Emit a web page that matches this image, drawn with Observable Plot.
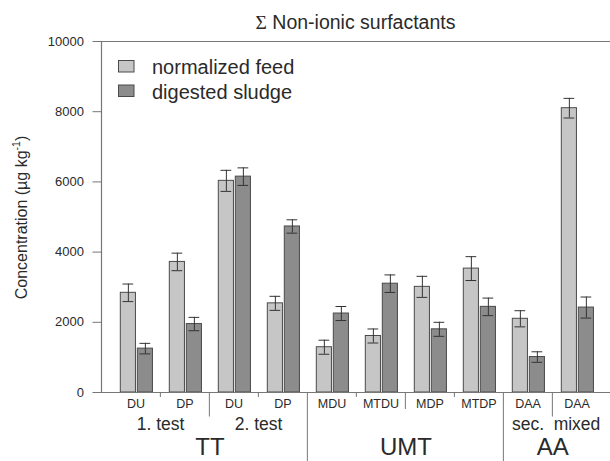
<!DOCTYPE html>
<html>
<head>
<meta charset="utf-8">
<script src="https://cdn.jsdelivr.net/npm/d3@7"></script>
<script src="https://cdn.jsdelivr.net/npm/@observablehq/plot@0.6"></script>
<style>
  html, body { margin: 0; padding: 0; background: #fff; }
  #chart svg { display: block; overflow: visible; }
</style>
</head>
<body>
<div id="chart"></div>
<script>
// ---- data ----
const categories = ["DU1", "DP1", "DU2", "DP2", "MDU", "MTDU", "MDP", "MTDP", "DAAsec", "DAAmixed"];
const categoryLabels = ["DU", "DP", "DU", "DP", "MDU", "MTDU", "MDP", "MTDP", "DAA", "DAA"];
const seriesNames = ["normalized feed", "digested sludge"];
const feedValues = [2840, 3720, 6030, 2540, 1290, 1610, 3010, 3530, 2100, 8100];
const feedErrors = [250, 250, 300, 200, 200, 200, 300, 340, 230, 280];
const sludgeValues = [1250, 1950, 6150, 4730, 2250, 3100, 1800, 2440, 1010, 2420];
const sludgeErrors = [150, 190, 250, 190, 200, 250, 200, 250, 150, 300];
const subgroupLabels = ["1. test", "2. test", "sec.", "mixed"];
const subgroupMembers = [["DU1", "DP1"], ["DU2", "DP2"], ["DAAsec"], ["DAAmixed"]];
const groupLabels = ["TT", "UMT", "AA"];
const groupMembers = [["DU1", "DP1", "DU2", "DP2"], ["MDU", "MTDU", "MDP", "MTDP"], ["DAAsec", "DAAmixed"]];
const yTicks = [0, 2000, 4000, 6000, 8000, 10000];
const titleSymbol = "Σ";
const titleText = " Non-ionic surfactants";
const yLabelParts = ["Concentration (µg kg", "-1", ")"];
// divider to the left of each category: "minor", "test", "mid", "group" or none
const dividerKinds = [null, "minor", "test", "minor", "group", "minor", "mid", "minor", "group", "test"];

// ---- styles ----
const W = 610, H = 461;
const mL = 101, mR = 0, mT = 41, mB = 69;
const xRange = [109.7, 602.3];
const bw = (xRange[1] - xRange[0]) / categories.length;
const feedFill = "#c6c6c6", sludgeFill = "#8c8c8c", barStroke = "#4a4a4a";
const errColor = "#333333", axisColor = "#777777", textColor = "#2a2a2a";
const font = "Liberation Sans, Arial, Helvetica, sans-serif";
const frameH = H - mT - mB;
const dividerLen = {minor: 5, test: 24.5, mid: 17, group: mB};

// bar geometry within a band
const feedLeft = 9.3, barW = 15.4, gap = 1.6;
const sludgeLeft = feedLeft + barW + gap;
const capW = 11;
const feedCenter = feedLeft + barW / 2, sludgeCenter = sludgeLeft + barW / 2;

const feedRows = categories.map((c, i) => ({cat: c, v: feedValues[i], e: feedErrors[i]}));
const sludgeRows = categories.map((c, i) => ({cat: c, v: sludgeValues[i], e: sludgeErrors[i]}));
const labelRows = categories.map((c, i) => ({cat: c, label: categoryLabels[i]}));
const dividerRows = categories.map((c, i) => ({cat: c, kind: dividerKinds[i]})).filter(d => d.kind);

function errMarks(rows, center) {
  const dx = center - bw / 2;
  const capL = center - capW / 2, capR = bw - (center + capW / 2);
  return [
    Plot.ruleX(rows, {x: "cat", y1: d => d.v - d.e, y2: d => d.v + d.e, dx, stroke: errColor, strokeWidth: 1}),
    Plot.tickY(rows, {x: "cat", y: d => d.v + d.e, insetLeft: capL, insetRight: capR, stroke: errColor, strokeWidth: 1}),
    Plot.tickY(rows, {x: "cat", y: d => d.v - d.e, insetLeft: capL, insetRight: capR, stroke: errColor, strokeWidth: 1})
  ];
}

const spanText = (labels, members, fontSize, dy) => labels.map((lab, i) => {
  const m = members[i];
  return Plot.text([{cat: m[0], label: lab}], {
    x: "cat", text: "label", frameAnchor: "bottom",
    dx: (m.length - 1) * bw / 2, dy, fontSize, lineAnchor: "middle", fill: textColor
  });
});

const chart = Plot.plot({
  width: W, height: H,
  marginLeft: mL, marginRight: mR, marginTop: mT, marginBottom: mB,
  style: {fontFamily: font, color: textColor, background: "#fff"},
  x: {type: "band", domain: categories, range: xRange, padding: 0, axis: null},
  y: {domain: [0, 10000], axis: null},
  marks: [
    Plot.barY(feedRows, {x: "cat", y: "v", fill: feedFill, stroke: barStroke, strokeWidth: 1,
      insetLeft: feedLeft, insetRight: bw - feedLeft - barW}),
    Plot.barY(sludgeRows, {x: "cat", y: "v", fill: sludgeFill, stroke: barStroke, strokeWidth: 1,
      insetLeft: sludgeLeft, insetRight: bw - sludgeLeft - barW}),
    ...errMarks(feedRows, feedCenter),
    ...errMarks(sludgeRows, sludgeCenter),
    Plot.ruleY([0, 10000], {stroke: axisColor, strokeWidth: 1.2}),
    Plot.frame({anchor: "left", stroke: axisColor, strokeWidth: 1.2}),
    Plot.axisY({ticks: yTicks, tickSize: 8.5, tickPadding: 9, tickFormat: d3.format("d"),
      fontSize: 13, stroke: axisColor, label: null, color: textColor}),
    ...Object.entries(dividerLen).map(([kind, len]) =>
      Plot.ruleX(dividerRows.filter(d => d.kind === kind), {
        x: "cat", dx: -bw / 2, insetTop: frameH, insetBottom: -len, stroke: axisColor, strokeWidth: 1
      })),
    Plot.text(labelRows, {x: "cat", text: "label", frameAnchor: "bottom", dy: 11.3, fontSize: 12.5, lineAnchor: "middle", fill: textColor}),
    ...spanText(subgroupLabels, subgroupMembers, 17.5, 32),
    ...spanText(groupLabels, groupMembers, 24, 54.5)
  ]
});

const svg = d3.select(chart);
// title
const title = svg.append("text")
  .attr("x", (mL + W - mR) / 2).attr("y", 29.3)
  .attr("text-anchor", "middle").attr("font-size", 19.5)
  .attr("font-family", font).attr("fill", textColor);
title.append("tspan").attr("font-family", "Liberation Serif, DejaVu Serif, serif").text(titleSymbol);
title.append("tspan").text(titleText);

// y-axis label
const yl = svg.append("text")
  .attr("transform", `translate(27, ${(mT + H - mB) / 2 + 1}) rotate(-90)`)
  .attr("text-anchor", "middle").attr("font-size", 16)
  .attr("font-family", font).attr("fill", textColor);
yl.append("tspan").text(yLabelParts[0]);
yl.append("tspan").attr("font-size", 10.5).attr("dy", -7).text(yLabelParts[1]);
yl.append("tspan").attr("dy", 7).text(yLabelParts[2]);

// legend
const legendColors = [feedFill, sludgeFill];
const lg = svg.append("g").attr("font-family", font).attr("font-size", 20).attr("fill", textColor).attr("text-anchor", "start");
seriesNames.forEach((name, i) => {
  lg.append("rect").attr("x", 118.5).attr("y", 60.5 + i * 24.5).attr("width", 15.5).attr("height", 11.5)
    .attr("fill", legendColors[i]).attr("stroke", barStroke).attr("stroke-width", 1);
  lg.append("text").attr("x", 152).attr("y", 74 + i * 24.5).attr("text-anchor", "start").text(name);
});

document.getElementById("chart").appendChild(chart);
</script>
</body>
</html>
